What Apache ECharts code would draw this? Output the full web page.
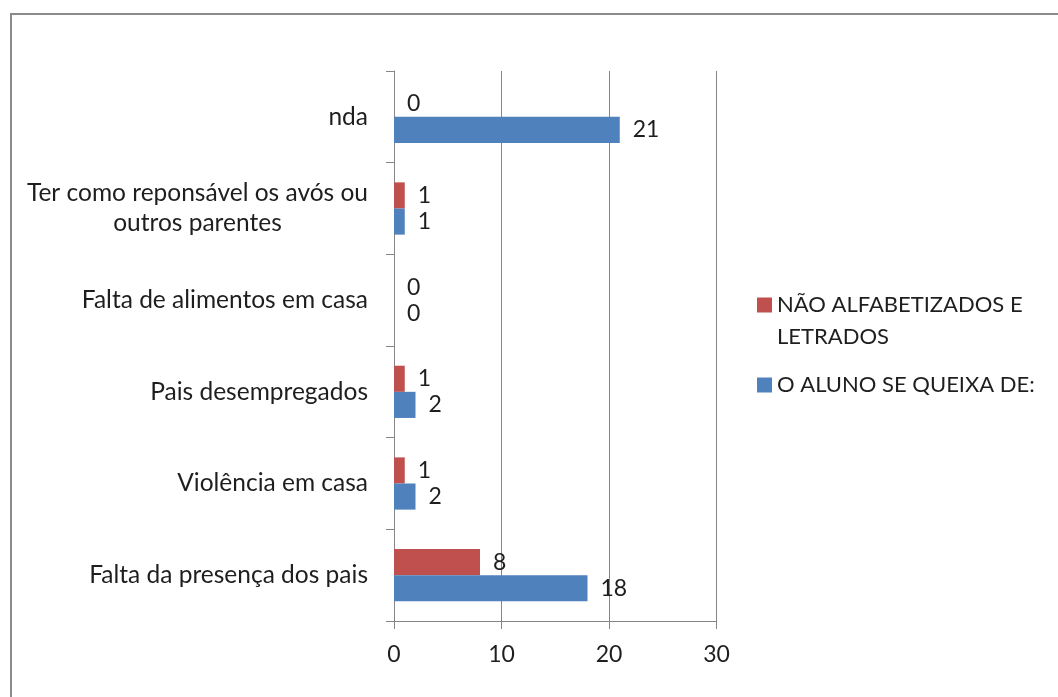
<!DOCTYPE html>
<html>
<head>
<meta charset="utf-8">
<script src="https://cdn.jsdelivr.net/npm/echarts@6/dist/echarts.min.js"></script>
<style>
  html, body { margin: 0; padding: 0; background: #fff; }
  #chart { width: 1058px; height: 697px; }
</style>
</head>
<body>
<div id="chart"></div>
<script>
// Categories, listed bottom to top as the axis draws them
const categories = [
  'Falta da presença dos pais',
  'Violência em casa',
  'Pais desempregados',
  'Falta de alimentos em casa',
  'Ter como reponsável os avós ou\noutros parentes',
  'nda'
];
const seriesNames = ['NÃO ALFABETIZADOS E LETRADOS', 'O ALUNO SE QUEIXA DE:'];
const naoAlfabetizados = [8, 1, 1, 0, 1, 0];
const alunoQueixa = [18, 2, 2, 0, 1, 21];
const xTicks = [0, 10, 20, 30];

const FONT = 'Lato';
const TEXT = '#1e1e1e';
const AXIS = '#868686';
const RED = '#C0504D';
const BLUE = '#4F81BD';

const chart = echarts.init(document.getElementById('chart'), null, { renderer: 'canvas' });

const labelStyle = {
  show: true,
  position: 'right',
  distance: 13,
  fontFamily: FONT,
  fontSize: 23,
  color: TEXT
};

chart.setOption({
  backgroundColor: '#fff',
  animation: false,
  graphic: [{
    type: 'rect',
    shape: { x: 11, y: 14, width: 1200, height: 900 },
    style: { fill: 'none', stroke: '#8a8a8a', lineWidth: 2 },
    silent: true
  }],
  grid: { left: 394, top: 71, right: 341.5, bottom: 76, containLabel: false },
  legend: [{
    data: [seriesNames[0]],
    left: 757,
    top: 257,
    orient: 'vertical',
    padding: 0,
    itemWidth: 15,
    itemHeight: 15,
    icon: 'rect',
    // a blank first line keeps the swatch level with the first text line
    formatter: () => '{e| }\n{a|NÃO ALFABETIZADOS E}\n{a|LETRADOS}',
    textStyle: {
      fontFamily: FONT, fontSize: 22, color: TEXT, lineHeight: 32,
      rich: {
        e: { fontFamily: FONT, fontSize: 22, lineHeight: 32 },
        a: { fontFamily: FONT, fontSize: 22, color: TEXT, lineHeight: 32 }
      }
    }
  }, {
    data: [seriesNames[1]],
    left: 757,
    top: 371,
    orient: 'vertical',
    padding: 0,
    itemWidth: 15,
    itemHeight: 15,
    icon: 'rect',
    textStyle: { fontFamily: FONT, fontSize: 22, color: TEXT, lineHeight: 28 }
  }],
  xAxis: {
    type: 'value',
    min: xTicks[0],
    max: xTicks[xTicks.length - 1],
    interval: xTicks[1] - xTicks[0],
    axisLine: { show: true, lineStyle: { color: AXIS, width: 1 } },
    axisTick: { show: true, length: 8, lineStyle: { color: AXIS } },
    axisLabel: { margin: 22, fontFamily: FONT, fontSize: 23, color: TEXT },
    splitLine: { show: true, lineStyle: { color: AXIS, width: 1 } }
  },
  yAxis: {
    type: 'category',
    data: categories,
    axisLine: { show: true, lineStyle: { color: AXIS, width: 1 } },
    axisTick: { show: true, length: 8, lineStyle: { color: AXIS } },
    axisLabel: {
      margin: 26,
      fontFamily: FONT,
      fontSize: 24.5,
      color: TEXT,
      formatter: (v) => v.split('\n').map(l => '{c|' + l + '}').join('\n'),
      rich: {
        c: { align: 'center', fontFamily: FONT, fontSize: 24.5, color: TEXT, lineHeight: 30 }
      }
    },
    splitLine: { show: false }
  },
  series: [{
    name: seriesNames[0],
    type: 'bar',
    data: naoAlfabetizados,
    barGap: '0%',
    barCategoryGap: '43%',
    itemStyle: { color: RED },
    label: labelStyle
  }, {
    name: seriesNames[1],
    type: 'bar',
    data: alunoQueixa,
    barGap: '0%',
    barCategoryGap: '43%',
    itemStyle: { color: BLUE },
    label: labelStyle
  }]
});
</script>
</body>
</html>
